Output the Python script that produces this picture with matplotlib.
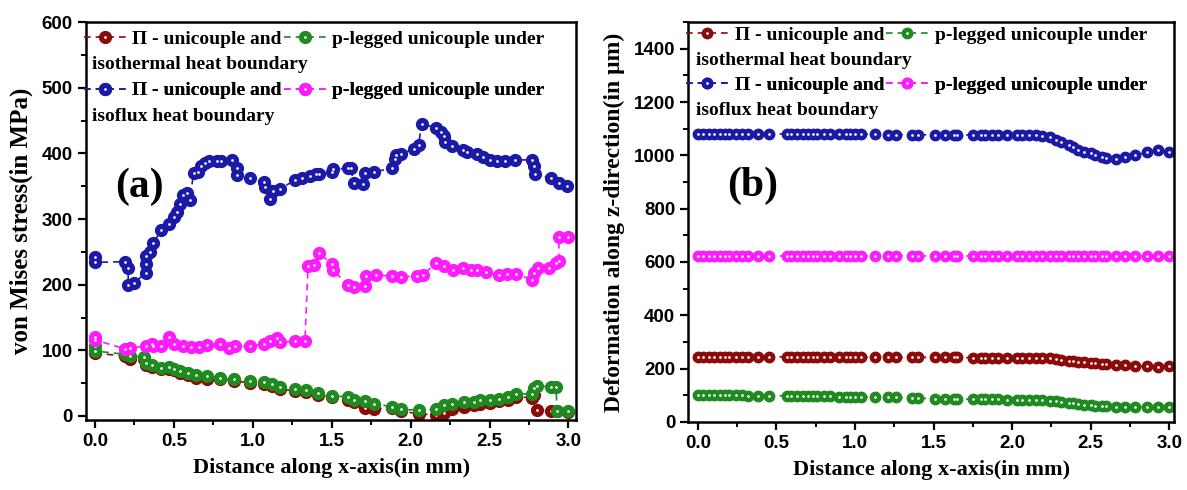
import matplotlib
matplotlib.use('Agg')
import matplotlib.pyplot as plt
from matplotlib.ticker import MultipleLocator

# ---------------- (a) von Mises stress ----------------
xa_iso_pi = [0, 0.19, 0.22, 0.31, 0.32, 0.36, 0.42, 0.47, 0.50, 0.54, 0.59, 0.64, 0.71, 0.79, 0.88,
             0.98, 1.07, 1.12, 1.17, 1.27, 1.34, 1.41, 1.50, 1.60, 1.64, 1.71, 1.77, 1.88, 1.94, 2.05,
             2.16, 2.21, 2.26, 2.34, 2.40, 2.44, 2.50, 2.56, 2.62, 2.67, 2.77, 2.78, 2.80, 2.89, 2.93, 3.00]
ya_iso_pi = [96, 91, 87, 87, 78, 74, 72, 72, 70, 65, 62, 58, 57, 56, 53,
             51, 49, 45, 41, 38, 37, 32, 29, 25, 21, 12, 11, 12, 8, 3,
             2, 5, 11, 14, 16, 18, 20, 23, 25, 29, 28, 32, 9, 8, 7, 6]

xa_iso_p = [0, 0, 0.19, 0.22, 0.31, 0.32, 0.36, 0.42, 0.47, 0.50, 0.54, 0.59, 0.64, 0.71, 0.79, 0.88,
            0.98, 1.07, 1.12, 1.17, 1.27, 1.34, 1.41, 1.50, 1.60, 1.64, 1.71, 1.77, 1.88, 1.94, 2.05,
            2.16, 2.21, 2.26, 2.34, 2.40, 2.44, 2.50, 2.56, 2.62, 2.67, 2.77, 2.78, 2.80, 2.89, 2.92, 2.93, 3.00]
ya_iso_p = [106, 99, 94, 91, 90, 81, 77, 73, 74, 71, 68, 66, 63, 61, 58, 56,
            53, 52, 48, 44, 41, 40, 35, 31, 29, 25, 23, 19, 14, 10, 9,
            10, 16, 19, 21, 22, 24, 25, 26, 29, 33, 34, 42, 46, 44, 44, 7, 7]

xa_flux_pi = [0, 0, 0.19, 0.21, 0.21, 0.245, 0.32, 0.32, 0.32, 0.35, 0.37, 0.42, 0.47, 0.50, 0.52, 0.54,
              0.56, 0.58, 0.60, 0.625, 0.65, 0.67, 0.70, 0.72, 0.77, 0.80, 0.87, 0.90, 0.90, 0.98,
              1.07, 1.08, 1.11, 1.13, 1.17, 1.27, 1.31, 1.36, 1.40, 1.42, 1.50, 1.51, 1.60, 1.62, 1.64,
              1.70, 1.71, 1.77, 1.88, 1.90, 1.91, 1.94, 2.02, 2.05, 2.07, 2.16, 2.19, 2.21, 2.22, 2.26,
              2.33, 2.36, 2.42, 2.46, 2.50, 2.55, 2.60, 2.66, 2.77, 2.78, 2.79, 2.89, 2.94, 2.99]
ya_flux_pi = [242, 234, 235, 225, 200, 202, 218, 232, 244, 250, 263, 284, 292, 303, 310, 323,
              336, 340, 329, 370, 372, 380, 385, 388, 388, 388, 390, 378, 367, 363,
              357, 349, 331, 343, 345, 360, 363, 366, 368, 369, 372, 376, 377, 378, 355,
              354, 370, 372, 377, 391, 397, 399, 407, 412, 445, 439, 432, 426, 418, 411,
              405, 402, 399, 395, 390, 388, 388, 390, 390, 381, 369, 362, 355, 350]

xa_flux_p = [0, 0, 0.19, 0.22, 0.32, 0.36, 0.37, 0.42, 0.47, 0.50, 0.56, 0.61, 0.66, 0.71, 0.79,
             0.85, 0.89, 0.98, 1.07, 1.11, 1.15, 1.17, 1.27, 1.33, 1.35, 1.39, 1.42, 1.50, 1.51, 1.60,
             1.64, 1.71, 1.72, 1.78, 1.88, 1.94, 2.04, 2.08, 2.16, 2.21, 2.27, 2.33, 2.38, 2.42, 2.48,
             2.56, 2.61, 2.67, 2.77, 2.78, 2.81, 2.88, 2.92, 2.94, 2.94, 3.00]
ya_flux_p = [121, 116, 102, 104, 106, 110, 107, 106, 120, 110, 106, 105, 105, 108, 109,
             104, 106, 106, 110, 114, 119, 112, 114, 114, 228, 230, 248, 232, 222, 200,
             196, 198, 213, 215, 213, 212, 213, 215, 233, 228, 222, 225, 223, 222, 219,
             215, 216, 217, 207, 218, 225, 225, 233, 236, 272, 272]

# ---------------- (b) deformation along z ----------------
xb = [0.0, 0.03, 0.07, 0.10, 0.14, 0.17, 0.20, 0.24, 0.28, 0.32, 0.38, 0.45,
      0.57, 0.59, 0.63, 0.67, 0.70, 0.73, 0.76, 0.80, 0.84,
      0.90, 0.94, 0.97, 1.00, 1.04, 1.13, 1.21, 1.26, 1.36, 1.40,
      1.51, 1.57, 1.63, 1.65, 1.75, 1.80, 1.83, 1.87, 1.91,
      1.97, 2.03, 2.06, 2.11, 2.15, 2.19, 2.24, 2.28, 2.31, 2.36,
      2.39, 2.42, 2.46, 2.50, 2.53, 2.57, 2.60, 2.66, 2.72, 2.78, 2.86, 2.93, 3.00]
yb_iso_pi = [245, 245, 245, 245, 245, 245, 245, 244, 244, 244, 244, 244,
             244, 244, 244, 244, 244, 243, 243, 243, 243,
             243, 243, 243, 243, 243, 242, 242, 242, 242, 242,
             242, 242, 242, 242, 241, 241, 241, 241, 241,
             241, 241, 241, 241, 240, 240, 239, 236, 233, 230,
             228, 226, 224, 222, 220, 218, 216, 214, 212, 210, 208, 207, 210]
yb_iso_p = [102, 102, 102, 101, 101, 101, 100, 100, 100, 99, 99, 98,
            98, 97, 97, 97, 97, 96, 96, 96, 96,
            95, 95, 95, 95, 94, 93, 92, 92, 90, 89,
            87, 87, 86, 86, 85, 85, 85, 84, 84,
            83, 83, 83, 82, 82, 82, 80, 78, 76, 72,
            70, 67, 64, 62, 60, 59, 58, 57, 57, 57, 56, 56, 56]
yb_flux_pi = [1081, 1081, 1081, 1081, 1081, 1081, 1081, 1081, 1081, 1081, 1080, 1080,
              1080, 1080, 1080, 1080, 1080, 1080, 1080, 1080, 1080,
              1079, 1079, 1079, 1079, 1079, 1079, 1078, 1078, 1077, 1077,
              1077, 1077, 1077, 1077, 1076, 1076, 1076, 1076, 1076,
              1075, 1075, 1075, 1075, 1075, 1073, 1068, 1058, 1050, 1040,
              1030, 1020, 1012, 1008, 1000, 994, 990, 986, 992, 1000, 1012, 1020, 1012]
yb_flux_p = [622, 622, 622, 622, 622, 622, 622, 622, 622, 622, 622, 622,
             622, 622, 622, 622, 622, 622, 622, 622, 622,
             622, 622, 622, 622, 622, 622, 622, 622, 622, 622,
             622, 622, 622, 622, 622, 622, 622, 622, 622,
             622, 622, 622, 622, 622, 622, 622, 622, 622, 622,
             622, 622, 622, 622, 622, 622, 622, 622, 622, 622, 622, 622, 622]

c_maroon = '#8B0A0A'
c_green = '#1F8A1F'
c_blue = '#1A1AA6'
c_magenta = '#FF1AFF'

serif = 'Liberation Serif'
sans = 'Liberation Sans'

fig = plt.figure(figsize=(11.87, 4.9), dpi=100)
ax1 = fig.add_axes([0.0725, 0.143, 0.413, 0.812])
ax2 = fig.add_axes([0.580, 0.139, 0.409, 0.816])


def draw(ax, x, y, color, ms=8.5):
    line, = ax.plot(x, y, ls='--', lw=1.2, color=color, marker='o', ms=ms,
                    mfc=color, mec=color, dashes=(4, 3))
    # small highlight on each sphere-like marker
    dot, = ax.plot(x, y, ls='none', marker='o', ms=2.0, mew=0, color='#f2f2f2')
    return (line, dot)


def legend_block(ax, h1, h2, text, y, xtxt):
    leg = ax.legend([h1, h2], ['\u03A0 - unicouple and', 'p-legged unicouple under'],
                    ncol=2, loc='upper left', bbox_to_anchor=(-0.005, y), frameon=False,
                    handlelength=2.2, handletextpad=0.3, columnspacing=0.1,
                    borderaxespad=0, borderpad=0,
                    prop=dict(family=serif, weight='bold', size=14))
    ax.add_artist(leg)
    ax.text(xtxt, y - 0.065, text, transform=ax.transAxes, ha='left', va='top',
            family=serif, weight='bold', fontsize=14)


# ---- panel (a)
h_a1 = draw(ax1, xa_iso_pi, ya_iso_pi, c_maroon)
h_a2 = draw(ax1, xa_iso_p, ya_iso_p, c_green)
h_a3 = draw(ax1, xa_flux_pi, ya_flux_pi, c_blue)
h_a4 = draw(ax1, xa_flux_p, ya_flux_p, c_magenta)

ax1.set_xlim(-0.057, 3.05)
ax1.set_ylim(-6, 600)
ax1.yaxis.set_major_locator(MultipleLocator(100))
ax1.yaxis.set_minor_locator(MultipleLocator(50))
ax1.set_ylabel('von Mises stress(in MPa)', family=serif, weight='bold', fontsize=18, labelpad=6)
legend_block(ax1, h_a1, h_a2, 'isothermal heat boundary', 0.98, 0.012)
legend_block(ax1, h_a3, h_a4, 'isoflux heat boundary', 0.85, 0.012)
ax1.text(0.06, 0.585, '(a)', transform=ax1.transAxes, family=serif, weight='bold',
         fontsize=30, ha='left', va='center')

# ---- panel (b)
h_b1 = draw(ax2, xb, yb_iso_pi, c_maroon, ms=7.5)
h_b2 = draw(ax2, xb, yb_iso_p, c_green, ms=7.5)
h_b3 = draw(ax2, xb, yb_flux_pi, c_blue, ms=7.5)
h_b4 = draw(ax2, xb, yb_flux_p, c_magenta, ms=7.5)

ax2.set_xlim(-0.06, 3.03)
ax2.set_ylim(0, 1500)
ax2.yaxis.set_major_locator(MultipleLocator(200))
ax2.yaxis.set_minor_locator(MultipleLocator(100))
ax2.set_ylabel('Deformation along z-direction(in \u03bcm)', family=serif, weight='bold',
               fontsize=17, labelpad=6)
legend_block(ax2, h_b1, h_b2, 'isothermal heat boundary', 0.99, 0.016)
legend_block(ax2, h_b3, h_b4, 'isoflux heat boundary', 0.865, 0.016)
ax2.text(0.08, 0.59, '(b)', transform=ax2.transAxes, family=serif, weight='bold',
         fontsize=30, ha='left', va='center')

for ax in (ax1, ax2):
    ax.xaxis.set_major_locator(MultipleLocator(0.5))
    ax.xaxis.set_minor_locator(MultipleLocator(0.25))
    ax.set_xlabel('Distance along x-axis(in mm)', family=serif, weight='bold', fontsize=16,
                  labelpad=6)
    ax.tick_params(which='major', direction='out', length=6, width=1.6, labelsize=13.5)
    ax.tick_params(which='minor', direction='out', length=3.5, width=1.4)
    for lab in ax.get_xticklabels() + ax.get_yticklabels():
        lab.set_family(sans)
        lab.set_weight('bold')
    for sp in ax.spines.values():
        sp.set_linewidth(1.8)

fig.savefig('out.png', dpi=100)
